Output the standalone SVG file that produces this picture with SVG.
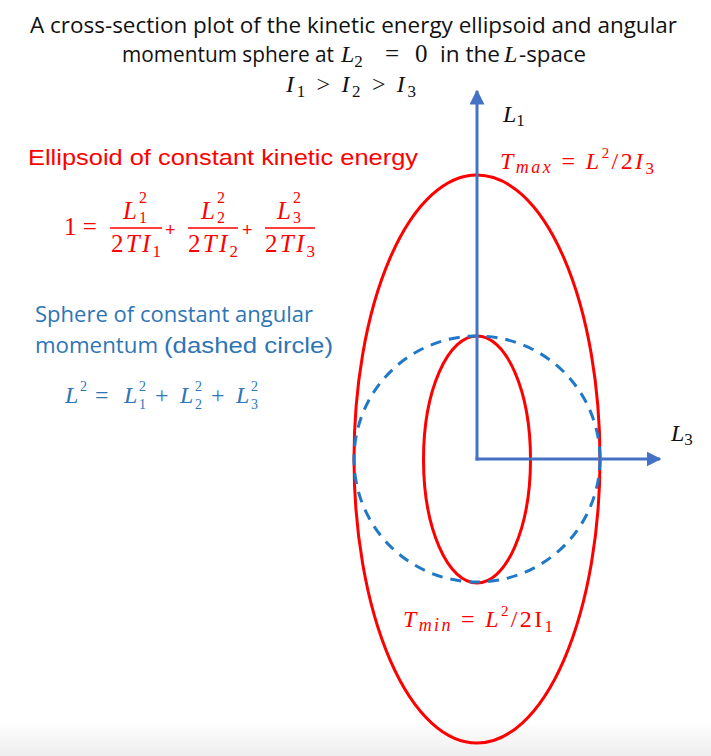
<svg xmlns="http://www.w3.org/2000/svg" width="711" height="756" viewBox="0 0 711 756">
  <defs>
    <linearGradient id="bottomShade" x1="0" y1="0" x2="0" y2="1">
      <stop offset="0" stop-color="#ffffff"/>
      <stop offset="1" stop-color="#eeeeee"/>
    </linearGradient>
    <marker id="arrowBlue" viewBox="0 0 10 10" refX="9" refY="5" markerWidth="5" markerHeight="5" markerUnits="strokeWidth" orient="auto">
      <path d="M0,0 L10,5 L0,10 z" fill="#4472C4"/>
    </marker>
    <style>
      .title { font-family: "Open Sans", "Liberation Sans", sans-serif; font-size: 21px; fill: #111; }
      .math { font-family: "Liberation Serif", "DejaVu Serif", serif; font-style: italic; }
      .up { font-style: normal; }
      .red { fill: #FF0000; }
      .blue { fill: #2E75B6; }
      .black { fill: #111; }
      .sans { font-family: "Liberation Sans", Arial, sans-serif; }
      .calibri { font-family: "Open Sans", "Liberation Sans", sans-serif; }
      .ell { fill: none; stroke: #FF0000; stroke-width: 3; }
      .axis { fill: none; stroke: #4472C4; stroke-width: 3; }
      .dash { fill: none; stroke: #1F78C8; stroke-width: 3; stroke-dasharray: 11 8; }
      .fracline { stroke: #FF0000; stroke-width: 1.4; }
    </style>
  </defs>
  <rect x="0" y="0" width="711" height="756" fill="#ffffff"/>
  <rect x="0" y="722" width="711" height="34" fill="url(#bottomShade)"/>

  <!-- Title -->
  <g id="title">
    <text class="title" x="30" y="33" textLength="647" lengthAdjust="spacingAndGlyphs">A cross-section plot of the kinetic energy ellipsoid and angular</text>
    <text class="title" x="122" y="62" textLength="212" lengthAdjust="spacingAndGlyphs">momentum sphere at</text>
    <text class="math black" x="341" y="62" font-size="24">L<tspan class="up" font-size="17" dy="5">2</tspan></text>
    <text class="math up black" x="385" y="62" font-size="25">=</text>
    <text class="math up black" x="415" y="62" font-size="25">0</text>
    <text class="title" x="440" y="62" textLength="60" lengthAdjust="spacingAndGlyphs">in the</text>
    <text class="math black" x="504" y="62" font-size="24">L</text>
    <text class="title" x="519" y="62" textLength="67" lengthAdjust="spacingAndGlyphs">-space</text>
    <text class="math black" x="286" y="92" font-size="24" textLength="130" lengthAdjust="spacing">I<tspan class="up" font-size="17" dy="5">1</tspan><tspan class="up" dy="-5"> &gt; </tspan>I<tspan class="up" font-size="17" dy="5">2</tspan><tspan class="up" dy="-5"> &gt; </tspan>I<tspan class="up" font-size="17" dy="5">3</tspan></text>
  </g>

  <!-- Kinetic energy ellipsoid caption and equation -->
  <g id="ellipsoid-label">
    <text class="sans red" x="28" y="165" font-size="22" textLength="390" lengthAdjust="spacingAndGlyphs">Ellipsoid of constant kinetic energy</text>
  </g>
  <g id="ellipsoid-equation">
    <text class="math up red" x="64" y="235" font-size="25">1 =</text>
    <line class="fracline" x1="110" y1="228" x2="162" y2="228"/>
    <text class="math red" x="123" y="219" font-size="25">L</text>
    <text class="math up red" x="139" y="203" font-size="16">2</text>
    <text class="math up red" x="139" y="223" font-size="16">1</text>
    <text class="math red" x="111" y="252" font-size="25" textLength="50" lengthAdjust="spacing"><tspan class="up">2</tspan>TI<tspan class="up" font-size="17" dy="5">1</tspan></text>
    <text class="sans red" x="165" y="236" font-size="18">+</text>
    <line class="fracline" x1="188" y1="228" x2="238" y2="228"/>
    <text class="math red" x="201" y="219" font-size="25">L</text>
    <text class="math up red" x="217" y="203" font-size="16">2</text>
    <text class="math up red" x="217" y="223" font-size="16">2</text>
    <text class="math red" x="188" y="252" font-size="25" textLength="50" lengthAdjust="spacing"><tspan class="up">2</tspan>TI<tspan class="up" font-size="17" dy="5">2</tspan></text>
    <text class="sans red" x="242" y="236" font-size="18">+</text>
    <line class="fracline" x1="265" y1="228" x2="315" y2="228"/>
    <text class="math red" x="277" y="219" font-size="25">L</text>
    <text class="math up red" x="293" y="203" font-size="16">2</text>
    <text class="math up red" x="293" y="223" font-size="16">3</text>
    <text class="math red" x="265" y="252" font-size="25" textLength="50" lengthAdjust="spacing"><tspan class="up">2</tspan>TI<tspan class="up" font-size="17" dy="5">3</tspan></text>
  </g>

  <!-- Angular momentum sphere caption and equation -->
  <g id="sphere-label">
    <text class="calibri blue" x="35" y="322" font-size="21" textLength="278" lengthAdjust="spacingAndGlyphs">Sphere of constant angular</text>
    <text class="calibri blue" x="35" y="353" font-size="21" textLength="123" lengthAdjust="spacingAndGlyphs">momentum</text>
    <text class="sans blue" x="164" y="353" font-size="22" textLength="169" lengthAdjust="spacingAndGlyphs">(dashed circle)</text>
  </g>
  <g id="sphere-equation">
    <text class="math blue" x="65" y="403" font-size="24">L</text>
    <text class="math up blue" x="80" y="391" font-size="14">2</text>
    <text class="math up blue" x="95" y="403" font-size="24">=</text>
    <text class="math blue" x="124" y="403" font-size="24">L</text>
    <text class="math up blue" x="139" y="391" font-size="14">2</text>
    <text class="math up blue" x="139" y="409" font-size="14">1</text>
    <text class="math up blue" x="155" y="403" font-size="24">+</text>
    <text class="math blue" x="180" y="403" font-size="24">L</text>
    <text class="math up blue" x="195" y="391" font-size="14">2</text>
    <text class="math up blue" x="195" y="409" font-size="14">2</text>
    <text class="math up blue" x="211" y="403" font-size="24">+</text>
    <text class="math blue" x="236" y="403" font-size="24">L</text>
    <text class="math up blue" x="251" y="391" font-size="14">2</text>
    <text class="math up blue" x="251" y="409" font-size="14">3</text>
  </g>

  <!-- Shapes -->
  <g id="kinetic-ellipse-outer">
    <ellipse class="ell" cx="477" cy="459" rx="123" ry="284"/>
  </g>
  <g id="kinetic-ellipse-inner">
    <ellipse class="ell" cx="477" cy="459.5" rx="53.5" ry="123.5"/>
  </g>
  <g id="momentum-circle">
    <circle class="dash" cx="477" cy="459" r="123"/>
  </g>

  <!-- Axes (connectors) -->
  <g id="connectors">
    <line class="axis" x1="477" y1="460.5" x2="477" y2="91" marker-end="url(#arrowBlue)"/>
    <line class="axis" x1="475.5" y1="459" x2="660" y2="459" marker-end="url(#arrowBlue)"/>
  </g>

  <!-- Axis labels -->
  <g id="L1-label">
    <text class="math black" x="503" y="122" font-size="24">L<tspan class="up" font-size="17" dy="4">1</tspan></text>
  </g>
  <g id="L3-label">
    <text class="math black" x="671" y="441" font-size="24">L<tspan class="up" font-size="17" dy="4">3</tspan></text>
  </g>

  <!-- T max / T min -->
  <g id="Tmax-label">
    <text class="math red" x="500" y="169" font-size="24" textLength="154" lengthAdjust="spacing">T<tspan font-size="18" dy="4">max</tspan><tspan class="up" dy="-4"> = </tspan>L<tspan class="up" font-size="15" dy="-11">2</tspan><tspan class="up" dy="11">/2</tspan>I<tspan class="up" font-size="17" dy="5">3</tspan></text>
  </g>
  <g id="Tmin-label">
    <text class="math red" x="403" y="627" font-size="24" textLength="150" lengthAdjust="spacing">T<tspan font-size="18" dy="4">min</tspan><tspan class="up" dy="-4"> = </tspan>L<tspan class="up" font-size="15" dy="-11">2</tspan><tspan class="up" dy="11">/2I</tspan><tspan class="up" font-size="17" dy="5">1</tspan></text>
  </g>
</svg>
